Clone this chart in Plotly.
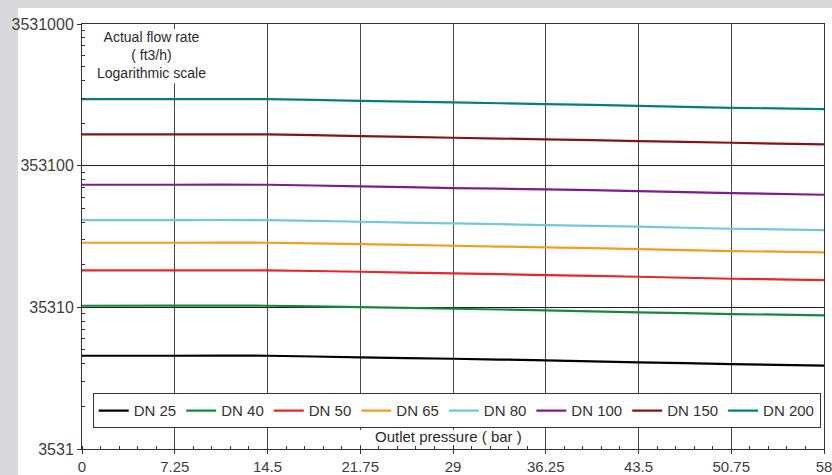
import plotly.graph_objects as go

# ---- data ----
pressure = [0, 7.25, 14.5, 21.75, 29, 36.25, 43.5, 50.75, 58]
dn25 = [16080, 16080, 16080, 15670, 15310, 14920, 14440, 14050, 13670]
dn40 = [36240, 36300, 36240, 35480, 34520, 33630, 32550, 31660, 31010]
dn50 = [64420, 64420, 64420, 62970, 61350, 59690, 58050, 56190, 55030]
dn65 = [100900, 100900, 100900, 98790, 96100, 93640, 91080, 88150, 86340]
dn80 = [145900, 145900, 145900, 141900, 138300, 134500, 130900, 126700, 124000]
dn100 = [258900, 258900, 258900, 252200, 245400, 240300, 233700, 226200, 220100]
dn150 = [587300, 587300, 587300, 571300, 555700, 541500, 526800, 512300, 499200]
dn200 = [1042000, 1042000, 1042000, 1013600, 987500, 960700, 934600, 904600, 885700]

series_names = ["DN 25", "DN 40", "DN 50", "DN 65", "DN 80", "DN 100", "DN 150", "DN 200"]
series_values = [dn25, dn40, dn50, dn65, dn80, dn100, dn150, dn200]
series_colors = ["#000000", "#138a3b", "#e8262b", "#f59c1e", "#72c7dd", "#7d1d88", "#861417", "#00807f"]

x_ticks = [0, 7.25, 14.5, 21.75, 29, 36.25, 43.5, 50.75, 58]
x_ticktext = ["0", "7.25", "14.5", "21.75", "29", "36.25", "43.5", "50.75", "58"]
y_ticks = [3531, 35310, 353100, 3531000]
y_ticktext = ["3531", "35310", "353100", "3531000"]
y_minor = [3531 * k * 10 ** n for n in range(3) for k in range(2, 10)]

FONT = "Liberation Sans"
W, H = 832, 475
ML, MR, MT, MB = 82, 8, 24, 26
PW, PH = W - ML - MR, H - MT - MB


def px(x):
    return (x - ML) / PW


def py(y):
    return (H - MB - y) / PH


fig = go.Figure()
for name, vals, col in zip(series_names, series_values, series_colors):
    fig.add_trace(go.Scatter(
        x=pressure, y=vals, name=name, mode="lines",
        line=dict(color=col, width=2.2, shape="spline", smoothing=0.4),
    ))

fig.update_layout(
    template="none",
    width=W, height=H,
    margin=dict(l=ML, r=MR, t=MT, b=MB, pad=0, autoexpand=False),
    paper_bgcolor="#d9d9db",
    plot_bgcolor="white",
    font=dict(family=FONT, size=16, color="#404040"),
    showlegend=True,
    legend=dict(
        orientation="h", x=px(92.7), y=py(393.3), xanchor="left", yanchor="top",
        bgcolor="white", bordercolor="#333333", borderwidth=1,
        font=dict(family=FONT, size=15, color="#333333"),
        itemwidth=30, tracegroupgap=0,
    ),
    xaxis=dict(
        automargin=False,
        range=[0, 58], tickmode="array", tickvals=x_ticks, ticktext=x_ticktext,
        tickfont=dict(family=FONT, size=15, color="#404040"),
        showgrid=True, gridcolor="#4a4a4a", gridwidth=1.3,
        showline=True, linecolor="#333333", linewidth=1, mirror=True,
        ticks="outside", ticklen=4, tickcolor="#333333",
        ticklabelstandoff=0, ticklabeloverflow="allow",
        zeroline=False,
        minor=dict(dtick=1.45, tick0=0, ticks="inside", ticklen=3, tickcolor="#333333", showgrid=False),
    ),
    yaxis=dict(
        automargin=False,
        type="log", range=[3.5479, 6.5479],
        tickmode="array", tickvals=y_ticks, ticktext=y_ticktext,
        showgrid=True, gridcolor="#222222", gridwidth=1,
        showline=True, linecolor="#333333", linewidth=1, mirror=True,
        ticks="outside", ticklen=4, tickcolor="#333333",
        zeroline=False,
        minor=dict(tickmode="array", tickvals=y_minor, ticks="inside", ticklen=3,
                   tickcolor="#333333", showgrid=False),
    ),
)

shapes = [
    # white panel over the grey page
    dict(type="rect", xref="paper", yref="paper", x0=px(18), x1=px(W + 2), y0=py(H + 2), y1=py(8),
         fillcolor="white", line=dict(width=0), layer="below"),
    # white boxes behind the texts
    dict(type="rect", xref="paper", yref="paper", x0=px(88), x1=px(215), y0=py(83.3), y1=py(29),
         fillcolor="white", line=dict(width=0), layer="above"),
    dict(type="rect", xref="paper", yref="paper", x0=px(356), x1=px(540), y0=py(445), y1=py(430),
         fillcolor="white", line=dict(width=0), layer="above"),
]
fig.update_layout(shapes=shapes)

fig.add_annotation(
    text="Actual flow rate<br>( ft3/h)<br>Logarithmic scale",
    xref="paper", yref="paper", x=px(151), y=py(55.5),
    xanchor="center", yanchor="middle", align="center", showarrow=False,
    font=dict(family=FONT, size=14, color="#2a2a2a"),
)
fig.add_annotation(
    text="Outlet pressure ( bar )",
    xref="paper", yref="paper", x=px(448.7), y=py(436.5),
    xanchor="center", yanchor="middle", showarrow=False,
    font=dict(family=FONT, size=15, color="#2a2a2a"),
)

fig.write_html(
    "out.html",
    config={"displayModeBar": False},
    post_script="document.body.style.margin='0px';document.body.style.padding='0px';"
                "document.body.style.background='#d9d9db';document.body.style.overflow='hidden';",
)
